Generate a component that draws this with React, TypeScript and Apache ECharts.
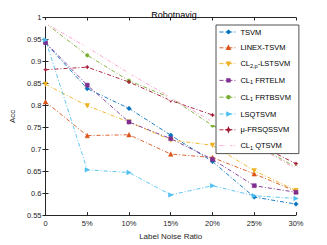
import React, { useEffect, useRef } from "react";
import * as echarts from "echarts";

const noiseRatios = [0, 5, 10, 15, 20, 25, 30];
const xTickLabels = ["0", "5%", "10%", "15%", "20%", "25%", "30%"];
const seriesNames = [
  "TSVM",
  "LINEX-TSVM",
  "CL2p-LSTSVM",
  "CL1 FRTELM",
  "CL1 FRTBSVM",
  "LSQTSVM",
  "μ-FRSQSSVM",
  "CL1 QTSVM",
];
const tsvm = [0.942, 0.838, 0.793, 0.732, 0.672, 0.591, 0.575];
const linexTsvm = [0.808, 0.731, 0.733, 0.689, 0.681, 0.644, 0.604];
const cl2pLstsvm = [0.848, 0.799, 0.762, 0.721, 0.709, 0.651, 0.606];
const cl1Frtelm = [0.943, 0.846, 0.762, 0.724, 0.677, 0.617, 0.602];
const cl1Frtbsvm = [0.987, 0.914, 0.856, 0.817, 0.754, 0.712, 0.659];
const lsqtsvm = [0.949, 0.653, 0.647, 0.596, 0.617, 0.594, 0.588];
const muFrsqssvm = [0.881, 0.887, 0.853, 0.811, 0.778, 0.715, 0.667];
const cl1Qtsvm = [0.987, 0.932, 0.873, 0.818, 0.762, 0.711, 0.655];

const allValues = [tsvm, linexTsvm, cl2pLstsvm, cl1Frtelm, cl1Frtbsvm, lsqtsvm, muFrsqssvm, cl1Qtsvm];
const colors = ["#0072BD", "#D95319", "#EDB120", "#7E2F8E", "#77AC30", "#4DBEEE", "#A2142F", "#FF9ECF"];
const symbols = ["diamond", "triangle", "path://M0,0 L10,0 L5,10 Z", "rect", "circle", "path://M0,0 L10,5 L0,10 Z", "path://M5,0 L6.5,3.5 L10,5 L6.5,6.5 L5,10 L3.5,6.5 L0,5 L3.5,3.5 Z", "emptyCircle"];
const symbolSizes = [4.5, 4.5, 4.5, 4, 3.5, 4.5, 4, 4.5];
const DASH = [4, 2, 1, 2];

const legendLabels: Record<string, string> = {
  TSVM: "TSVM",
  "LINEX-TSVM": "LINEX-TSVM",
  "CL2p-LSTSVM": "CL{sub|2,p}-LSTSVM",
  "CL1 FRTELM": "CL{sub|1} FRTELM",
  "CL1 FRTBSVM": "CL{sub|1} FRTBSVM",
  LSQTSVM: "LSQTSVM",
  "μ-FRSQSSVM": "μ-FRSQSSVM",
  "CL1 QTSVM": "CL{sub|1} QTSVM",
};

const FONT = "Liberation Sans, Arial, sans-serif";
const AX = "#262626";

export default function App() {
  const ref = useRef<HTMLDivElement>(null);
  useEffect(() => {
    if (!ref.current) return;
    const chart = echarts.init(ref.current, undefined, { renderer: "svg" });
    const axisCommon = {
      axisLine: { show: true, lineStyle: { color: AX, width: 1 } },
      axisTick: { show: true, inside: true, length: 3, lineStyle: { color: AX } },
      splitLine: { show: false },
    };
    chart.setOption({
      animation: false,
      backgroundColor: "#fff",
      textStyle: { fontFamily: FONT },
      title: {
        text: "Robotnavig",
        left: 169,
        textAlign: "center",
        top: 5,
        textStyle: { fontSize: 9, fontWeight: "normal", color: "#000", fontFamily: FONT },
      },
      grid: { left: 42, right: 31, top: 17.5, bottom: 27.5 },
      legend: {
        orient: "vertical",
        left: 216,
        top: 25,
        width: 71,
        itemWidth: 18,
        itemHeight: 3,
        itemGap: 7.8,
        padding: [3, 8, 3, 3],
        backgroundColor: "#fff",
        borderColor: AX,
        borderWidth: 0.8,
        data: seriesNames,
        lineStyle: { type: DASH, width: 0.9 },
        formatter: (n: string) => legendLabels[n] || n,
        textStyle: {
          fontSize: 7.5,
          color: "#000",
          fontFamily: FONT,
          padding: [0, 0, 0, -2],
          rich: { sub: { fontSize: 5.5, verticalAlign: "bottom", padding: [4, 0, 0, 0], fontFamily: FONT } },
        },
      },
      xAxis: [
        {
          type: "value",
          min: 0,
          max: 30,
          interval: 5,
          name: "Label Noise Ratio",
          nameLocation: "middle",
          nameGap: 15,
          nameTextStyle: { fontSize: 8, color: AX, fontFamily: FONT },
          ...axisCommon,
          axisLabel: {
            fontSize: 7.5,
            color: AX,
            margin: 4,
            fontFamily: FONT,
            formatter: (v: number) => xTickLabels[noiseRatios.indexOf(v)] ?? "",
          },
        },
        {
          type: "value",
          position: "top",
          min: 0,
          max: 30,
          interval: 5,
          ...axisCommon,
          axisLabel: { show: false },
        },
      ],
      yAxis: [
        {
          type: "value",
          min: 0.55,
          max: 1,
          interval: 0.05,
          name: "Acc",
          nameLocation: "middle",
          nameGap: 24,
          nameTextStyle: { fontSize: 8, color: AX, fontFamily: FONT },
          ...axisCommon,
          axisLabel: {
            fontSize: 7.5,
            color: AX,
            margin: 4,
            fontFamily: FONT,
            formatter: (v: number) => String(+v.toFixed(2)),
          },
        },
        {
          type: "value",
          position: "right",
          min: 0.55,
          max: 1,
          interval: 0.05,
          ...axisCommon,
          axisLabel: { show: false },
        },
      ],
      series: seriesNames.map((name, i) => ({
        name,
        type: "line",
        data: noiseRatios.map((x, j) => [x, allValues[i][j]]),
        symbol: symbols[i],
        symbolSize: symbolSizes[i],
        showSymbol: true,
        color: colors[i],
        itemStyle: { color: i === 7 ? "#fff" : colors[i], borderColor: colors[i], borderWidth: i === 7 ? 1 : 0.5 },
        lineStyle: { color: colors[i], width: 0.9, type: DASH },
        emphasis: { disabled: true },
      })),
    });
    return () => chart.dispose();
  }, []);
  return (
    <div
      ref={ref}
      style={{ position: "fixed", left: 0, top: 0, width: 327, height: 245 }}
    />
  );
}
